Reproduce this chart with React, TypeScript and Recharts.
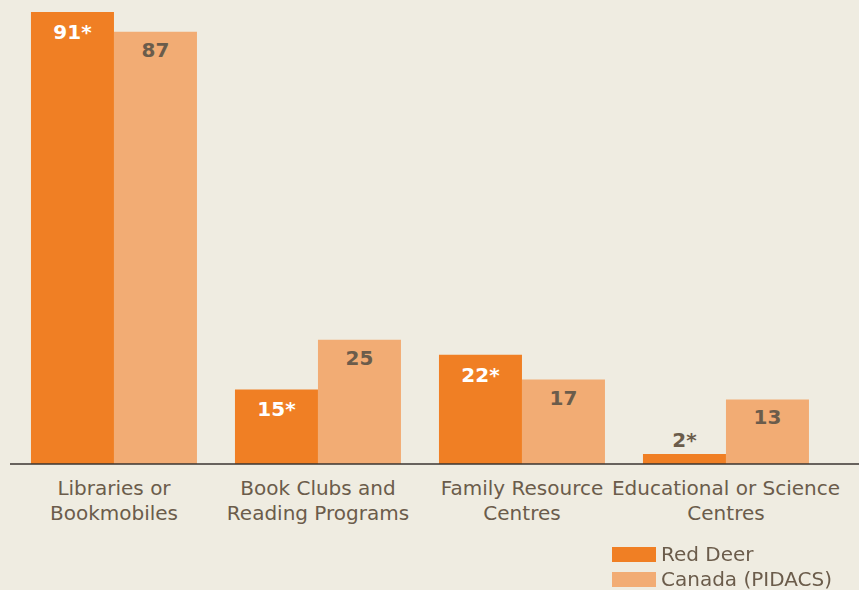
import { BarChart, Bar, XAxis, YAxis, LabelList } from 'recharts';

const categories = [
  ['Libraries or', 'Bookmobiles'],
  ['Book Clubs and', 'Reading Programs'],
  ['Family Resource', 'Centres'],
  ['Educational or Science', 'Centres'],
];
const redDeer = [91, 15, 22, 2];
const redDeerMarks = ['*', '*', '*', '*'];
const canada = [87, 25, 17, 13];
const seriesNames = ['Red Deer', 'Canada (PIDACS)'];

const data = categories.map((c, i) => ({
  name: c.join(' '),
  redDeer: redDeer[i],
  canada: canada[i],
}));

const TEXT = '#6b5c4b';
const ORANGE = '#f07f24';
const LIGHT = '#f2ac74';
const FONT = '"DejaVu Sans", Verdana, sans-serif';

const CategoryTick = ({ x, y, index }: any) => {
  const lines = categories[index] || [];
  return (
    <text x={x} y={y} textAnchor="middle" fill={TEXT} fontSize={20} fontFamily={FONT}>
      {lines.map((l, i) => (
        <tspan key={i} x={x} y={y + 23 + i * 25}>{l}</tspan>
      ))}
    </text>
  );
};

const RedDeerLabel = ({ x, y, width, height, index }: any) => {
  const txt = `${redDeer[index]}${redDeerMarks[index]}`;
  const inside = height > 30;
  return (
    <text
      x={x + width / 2}
      y={inside ? y + 27 : y - 7}
      textAnchor="middle"
      fill={inside ? '#ffffff' : TEXT}
      fontSize={20}
      fontWeight="bold"
      fontFamily={FONT}
    >
      {txt}
    </text>
  );
};

const CanadaLabel = ({ x, y, width, index }: any) => (
  <text
    x={x + width / 2}
    y={y + 25}
    textAnchor="middle"
    fill={TEXT}
    fontSize={20}
    fontWeight="bold"
    fontFamily={FONT}
  >
    {canada[index]}
  </text>
);

export default function App() {
  const colors = [ORANGE, LIGHT];
  return (
    <div style={{ position: 'fixed', left: 0, top: 0, width: 859, height: 590, background: '#efece1' }}>
      <BarChart
        width={859}
        height={590}
        data={data}
        margin={{ top: 12, right: 0, bottom: 96, left: 10 }}
        barCategoryGap="9.3%"
        barGap={0}
      >
        <XAxis
          dataKey="name"
          height={30}
          padding={{ left: 2, right: 31 }}
          axisLine={{ stroke: '#3a3530', strokeWidth: 1.5 }}
          tickLine={false}
          interval={0}
          tick={<CategoryTick />}
        />
        <YAxis hide domain={[0, 91]} />
        <Bar dataKey="redDeer" name={seriesNames[0]} fill={ORANGE} isAnimationActive={false}>
          <LabelList dataKey="redDeer" content={<RedDeerLabel />} />
        </Bar>
        <Bar dataKey="canada" name={seriesNames[1]} fill={LIGHT} isAnimationActive={false}>
          <LabelList dataKey="canada" content={<CanadaLabel />} />
        </Bar>
      </BarChart>
      <div
        style={{
          position: 'absolute',
          left: 612,
          top: 542,
          fontFamily: FONT,
          fontSize: 20,
          color: TEXT,
          lineHeight: '25px',
        }}
      >
        {seriesNames.map((label, i) => (
          <div key={label} style={{ display: 'flex', alignItems: 'center', whiteSpace: 'nowrap' }}>
            <span style={{ width: 44, height: 15, background: colors[i], marginRight: 5, display: 'inline-block' }} />
            {label}
          </div>
        ))}
      </div>
    </div>
  );
}
